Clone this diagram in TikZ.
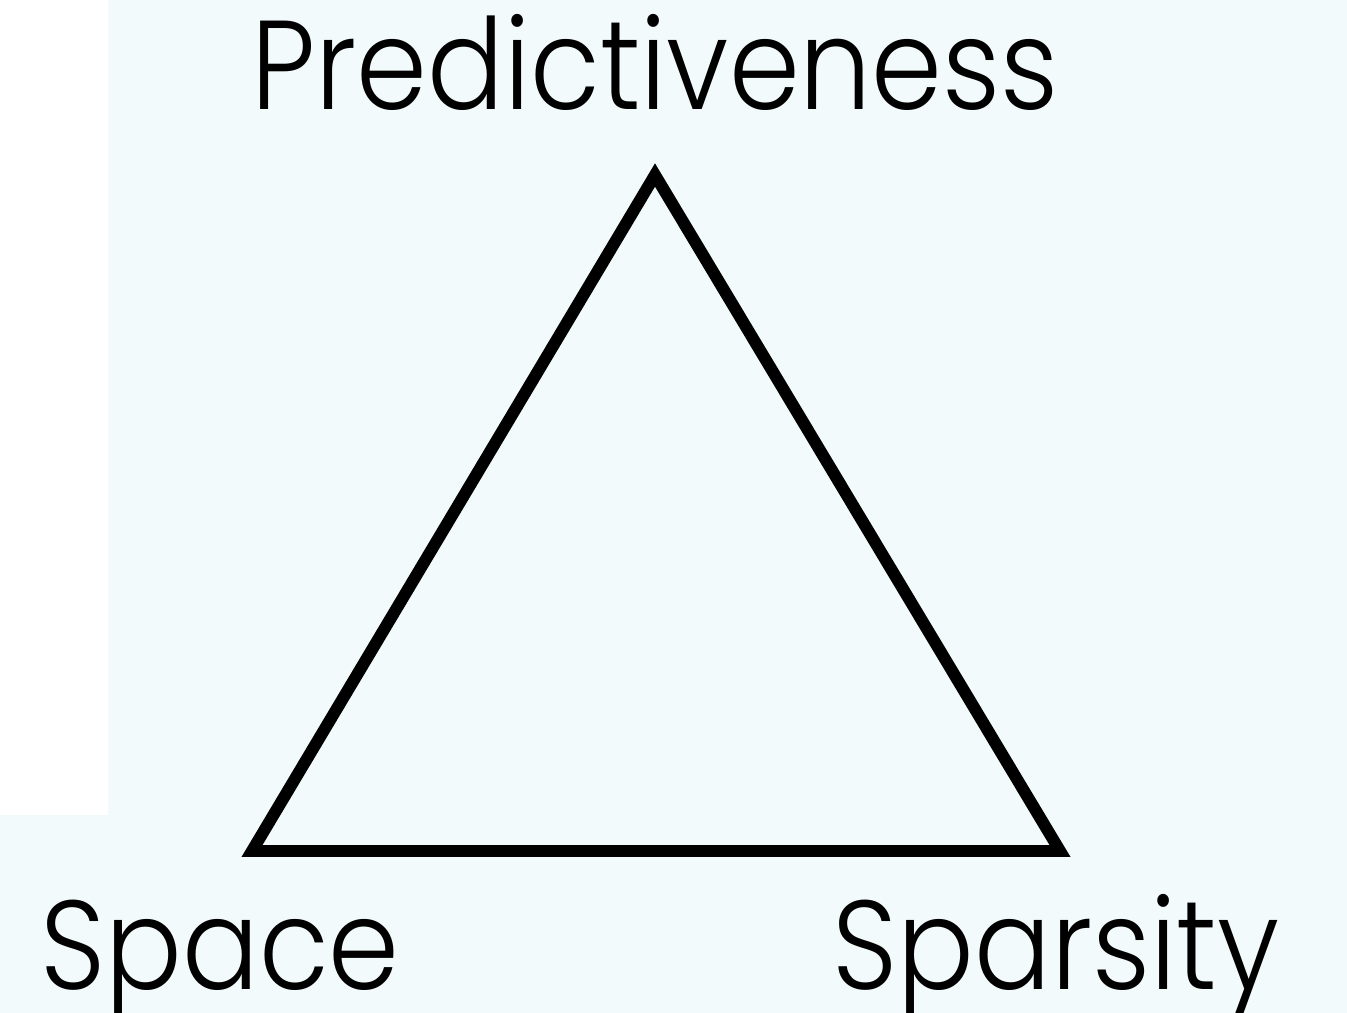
\documentclass[tikz,border=0pt]{standalone}
\usepackage{fontspec}
\setmainfont{Poppins}[UprightFont=* Light, FakeStretch=0.9]
\usepackage{xcolor}
\usetikzlibrary{positioning}
\definecolor{paleblue}{HTML}{F2FAFB}

\begin{document}
\begin{tikzpicture}[
      corner/.style={font=\fontsize{36}{40}\selectfont, anchor=base, inner sep=0pt},
      edge/.style={line width=3.4pt, miter limit=10, line join=miter}
    ]
    % background
    \fill[paleblue] (0,0) rectangle (13.47,10.13);
    \fill[white] (0,1.98) rectangle (1.08,10.13);
    \useasboundingbox (0,0) rectangle (13.47,10.13);
    % corners of the triangle
    \coordinate (apex) at (6.55,8.38);
    \coordinate (left) at (2.52,1.62);
    \coordinate (right) at (10.60,1.62);
    \draw[edge] (apex) -- (left) -- (right) -- cycle;
    % labels
    \node[corner] (pred) at (6.55,9.03) {Predictiveness};
    \node[corner] (space) at (2.20,0.23) {Space};
    \node[corner] (spars) at (10.56,0.23) {Sparsity};
  \end{tikzpicture}
\end{document}
